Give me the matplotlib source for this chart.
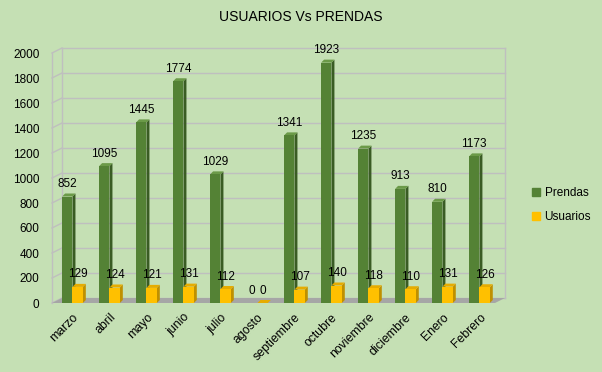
import matplotlib.pyplot as plt
from matplotlib.patches import Polygon
import numpy as np

plt.rcParams['font.family'] = ['Liberation Sans', 'DejaVu Sans']

meses = ['marzo', 'abril', 'mayo', 'junio', 'julio', 'agosto', 'septiembre',
         'octubre', 'noviembre', 'diciembre', 'Enero', 'Febrero']
prendas = [852, 1095, 1445, 1774, 1029, 0, 1341, 1923, 1235, 913, 810, 1173]
usuarios = [129, 124, 121, 131, 112, 0, 107, 140, 118, 110, 131, 126]
yticks = list(range(0, 2001, 200))

BG = '#C5E0B4'
GRID = '#BFBFBF'
GREEN = ('#548235', '#3A5C24', '#6B9A48')    # front, side, top
YELLOW = ('#FFC000', '#BF9000', '#E6AC00')

fig = plt.figure(figsize=(6.02, 3.72), dpi=100, facecolor=BG)
ax = fig.add_axes([52 / 602, 69 / 372, 443 / 602, 250 / 372])
ax.set_facecolor('none')
x0, x1 = -0.554, 11.42
ax.set_xlim(x0, x1)
ax.set_ylim(0, 2000)
for s in ax.spines.values():
    s.set_visible(False)

# wall depth (cat units / data units)
wdx, wdy = 0.27, 40
# back wall gridlines, left wall diagonals
for v in yticks:
    ax.plot([x0 + wdx, x1 + wdx], [v + wdy, v + wdy], color=GRID, lw=1,
            clip_on=False, zorder=1)
    ax.plot([x0, x0 + wdx], [v, v + wdy], color=GRID, lw=1, clip_on=False, zorder=1)
ax.plot([x0, x0], [0, 2000], color=GRID, lw=1, clip_on=False, zorder=1)
ax.plot([x0 + wdx, x0 + wdx], [wdy, 2000 + wdy], color=GRID, lw=1, clip_on=False, zorder=1)
ax.plot([x1 + wdx, x1 + wdx], [wdy, 2000 + wdy], color=GRID, lw=1, clip_on=False, zorder=1)
ax.add_patch(Polygon([(x0, 0), (x1, 0), (x1 + wdx, wdy), (x0 + wdx, wdy)],
                     closed=True, facecolor='#A6A6A6', edgecolor='none',
                     clip_on=False, zorder=1.5))

w = 0.28
bdx, bdy = 0.08, 24
x = np.arange(len(meses))


def bar3d(xc, h, cols, z):
    l, r = xc - w / 2, xc + w / 2
    ax.add_patch(Polygon([(r, 0), (r + bdx, bdy), (r + bdx, h + bdy), (r, h)],
                         facecolor=cols[1], edgecolor='none', clip_on=False, zorder=z))
    ax.add_patch(Polygon([(l, h), (l + bdx, h + bdy), (r + bdx, h + bdy), (r, h)],
                         facecolor=cols[2], edgecolor='none', clip_on=False, zorder=z))
    if h > 0:
        ax.bar(xc, h, w, color=cols[0], zorder=z, clip_on=False)


for i in x:
    if prendas[i] > 0:
        bar3d(i - w / 2, prendas[i], GREEN, 3 + i * 0.01)
    bar3d(i + w / 2, usuarios[i], YELLOW, 3.5 + i * 0.01)
    ax.annotate(str(prendas[i]), (i - w / 2, prendas[i]), xytext=(0, 9),
                textcoords='offset points', ha='center', va='center', fontsize=8.5, zorder=5)
    ax.annotate(str(usuarios[i]), (i + w / 2, usuarios[i]), xytext=(0, 9),
                textcoords='offset points', ha='center', va='center', fontsize=8.5, zorder=5)

ax.set_yticks(yticks)
ax.set_yticklabels([str(v) for v in yticks], fontsize=8.5)
ax.tick_params(axis='y', length=0, pad=9)
ax.set_xticks(x)
ax.set_xticklabels(meses, rotation=45, ha='right', rotation_mode='anchor', fontsize=8.8)
ax.tick_params(axis='x', length=0, pad=6)

fig.text(0.5, 1 - 17 / 372, 'USUARIOS Vs PRENDAS', ha='center', va='center', fontsize=10)

handles = [plt.Rectangle((0, 0), 1, 1, color=GREEN[0]),
           plt.Rectangle((0, 0), 1, 1, color=YELLOW[0])]
fig.legend(handles, ['Prendas', 'Usuarios'], loc='center left',
           bbox_to_anchor=(521 / 602, 1 - 205 / 372), frameon=False, fontsize=8.5,
           handlelength=0.7, handleheight=0.7, handletextpad=0.4, labelspacing=1.0)

fig.savefig('out.png', dpi=100, facecolor=BG)
